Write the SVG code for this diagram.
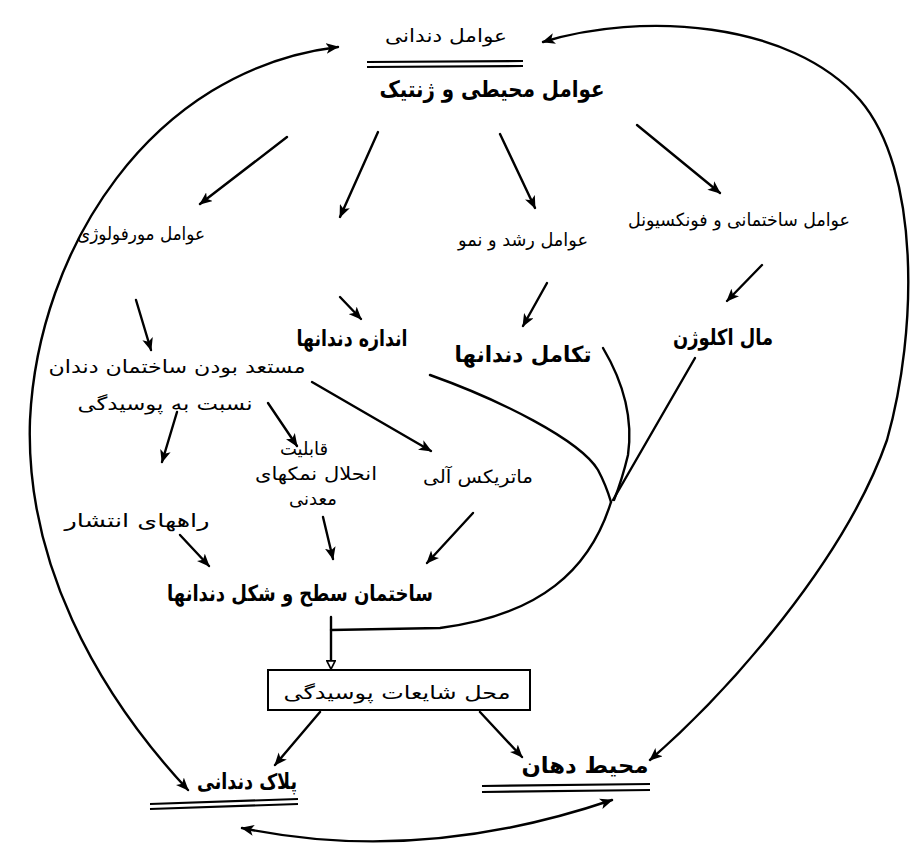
<svg xmlns="http://www.w3.org/2000/svg" width="920" height="846" viewBox="0 0 920 846">
  <style>
    text { font-family: "DejaVu Sans", sans-serif; font-size: 18px; fill: #000; direction: rtl; text-anchor: middle; unicode-bidi: embed; }
    .big { font-size: 23px; font-weight: bold; }
    .mid { font-size: 22px; font-weight: bold; }
    .ln { fill: none; stroke: #000; stroke-width: 2.4; stroke-linecap: round; stroke-linejoin: round; }
    .ul { fill: none; stroke: #000; stroke-width: 2.2; }
  </style>
  <defs>
    <marker id="ah" viewBox="0 0 12 10" refX="11" refY="5" markerWidth="13" markerHeight="11" markerUnits="userSpaceOnUse" orient="auto-start-reverse">
      <path d="M0,0 L12,5 L0,10 L3,5 Z" fill="#000"/>
    </marker>
    <marker id="ring" viewBox="0 0 12 12" refX="6" refY="6" markerWidth="10" markerHeight="10" markerUnits="userSpaceOnUse" orient="auto">
      <path d="M1,1 L11,6 L1,11 Z" fill="#fff" stroke="#000" stroke-width="2"/>
    </marker>
  </defs>

  <!-- nodes -->
  <g id="n-dental-factors">
    <text x="446" y="42" textLength="122" lengthAdjust="spacingAndGlyphs">عوامل دندانی</text>
    <path class="ul" d="M367,62 L523,61 M367,67 L523,66"/>
  </g>
  <g id="n-env-genetic">
    <text class="big" x="492" y="97" textLength="225" lengthAdjust="spacingAndGlyphs">عوامل محیطی و ژنتیک</text>
  </g>
  <g id="n-morph">
    <text x="141" y="240" textLength="128" lengthAdjust="spacingAndGlyphs">عوامل مورفولوژی</text>
  </g>
  <g id="n-growth">
    <text x="523" y="246" textLength="130" lengthAdjust="spacingAndGlyphs">عوامل رشد و نمو</text>
  </g>
  <g id="n-structural">
    <text x="739" y="226" textLength="222" lengthAdjust="spacingAndGlyphs">عوامل ساختمانی و فونکسیونل</text>
  </g>
  <g id="n-size">
    <text class="mid" x="352" y="346" textLength="111" lengthAdjust="spacingAndGlyphs">اندازه دندانها</text>
  </g>
  <g id="n-development">
    <text class="mid" x="523" y="362" textLength="137" lengthAdjust="spacingAndGlyphs">تکامل دندانها</text>
  </g>
  <g id="n-malocclusion">
    <text class="mid" x="723" y="345" textLength="100" lengthAdjust="spacingAndGlyphs">مال اکلوژن</text>
  </g>
  <g id="n-susceptibility">
    <text x="177" y="373" textLength="257" lengthAdjust="spacingAndGlyphs">مستعد بودن ساختمان دندان</text>
    <text x="165" y="410" textLength="175" lengthAdjust="spacingAndGlyphs">نسبت به پوسیدگی</text>
  </g>
  <g id="n-solubility">
    <text x="304" y="455">قابلیت</text>
    <text x="316" y="480" textLength="122" lengthAdjust="spacingAndGlyphs">انحلال نمکهای</text>
    <text x="313" y="505">معدنی</text>
  </g>
  <g id="n-pathways">
    <text x="137" y="527" textLength="145" lengthAdjust="spacingAndGlyphs">راههای انتشار</text>
  </g>
  <g id="n-matrix">
    <text x="478" y="483" textLength="110" lengthAdjust="spacingAndGlyphs">ماتریکس آلی</text>
  </g>
  <g id="n-surface">
    <text class="mid" x="300" y="601" textLength="266" lengthAdjust="spacingAndGlyphs">ساختمان سطح و شکل دندانها</text>
  </g>
  <g id="n-sites">
    <rect x="268" y="670" width="262" height="40" fill="#fff" stroke="#000" stroke-width="2"/>
    <text x="397" y="699" textLength="227" lengthAdjust="spacingAndGlyphs">محل شایعات پوسیدگی</text>
  </g>
  <g id="n-plaque">
    <text class="mid" x="247" y="789" textLength="100" lengthAdjust="spacingAndGlyphs">پلاک دندانی</text>
    <path class="ul" d="M150,804 L298,799 M150,809 L298,804"/>
  </g>
  <g id="n-oral">
    <text class="mid" x="585" y="773" textLength="127" lengthAdjust="spacingAndGlyphs">محیط دهان</text>
    <path class="ul" d="M482,786 L650,784 M482,792 L650,790"/>
  </g>

  <!-- connectors -->
  <g id="connectors">
    <!-- outer feedback loops -->
    <path class="ln" d="M188,790 C95,690 25,560 30,420 C38,250 150,70 338,47" marker-start="url(#ah)" marker-end="url(#ah)"/>
    <path class="ln" d="M650,760 C730,690 845,560 887,440 C918,330 920,170 860,100 C790,20 640,12 543,42" marker-start="url(#ah)" marker-end="url(#ah)"/>
    <path class="ln" d="M242,828 Q420,865 612,800" marker-start="url(#ah)" marker-end="url(#ah)"/>

    <!-- from environmental and genetic factors -->
    <path class="ln" d="M287,137 L200,204" marker-end="url(#ah)"/>
    <path class="ln" d="M378,132 L340,217" marker-end="url(#ah)"/>
    <path class="ln" d="M500,134 L535,208" marker-end="url(#ah)"/>
    <path class="ln" d="M637,125 L720,193" marker-end="url(#ah)"/>

    <!-- second row -->
    <path class="ln" d="M136,300 L151,350" marker-end="url(#ah)"/>
    <path class="ln" d="M340,297 L361,319" marker-end="url(#ah)"/>
    <path class="ln" d="M547,283 L523,326" marker-end="url(#ah)"/>
    <path class="ln" d="M762,265 L727,301" marker-end="url(#ah)"/>

    <!-- from susceptibility -->
    <path class="ln" d="M177,412 L162,462" marker-end="url(#ah)"/>
    <path class="ln" d="M268,403 L297,446" marker-end="url(#ah)"/>
    <path class="ln" d="M312,382 L431,451" marker-end="url(#ah)"/>

    <!-- into surface structure -->
    <path class="ln" d="M180,535 L209,566" marker-end="url(#ah)"/>
    <path class="ln" d="M323,517 L333,559" marker-end="url(#ah)"/>
    <path class="ln" d="M473,513 L427,563" marker-end="url(#ah)"/>

    <!-- merging lines toward caries sites -->
    <path class="ln" d="M430,375 C500,400 580,440 598,470 Q606,485 611,502"/>
    <path class="ln" d="M603,348 C625,385 633,420 628,455 Q622,480 614,500"/>
    <path class="ln" d="M695,358 L613,500"/>
    <path class="ln" d="M611,502 C590,570 540,615 440,628 L331,630"/>
    <path class="ln" d="M331,617 L331,665" marker-end="url(#ring)"/>

    <!-- from caries sites -->
    <path class="ln" d="M320,712 L275,765" marker-end="url(#ah)"/>
    <path class="ln" d="M480,712 L522,757" marker-end="url(#ah)"/>
  </g>
</svg>
